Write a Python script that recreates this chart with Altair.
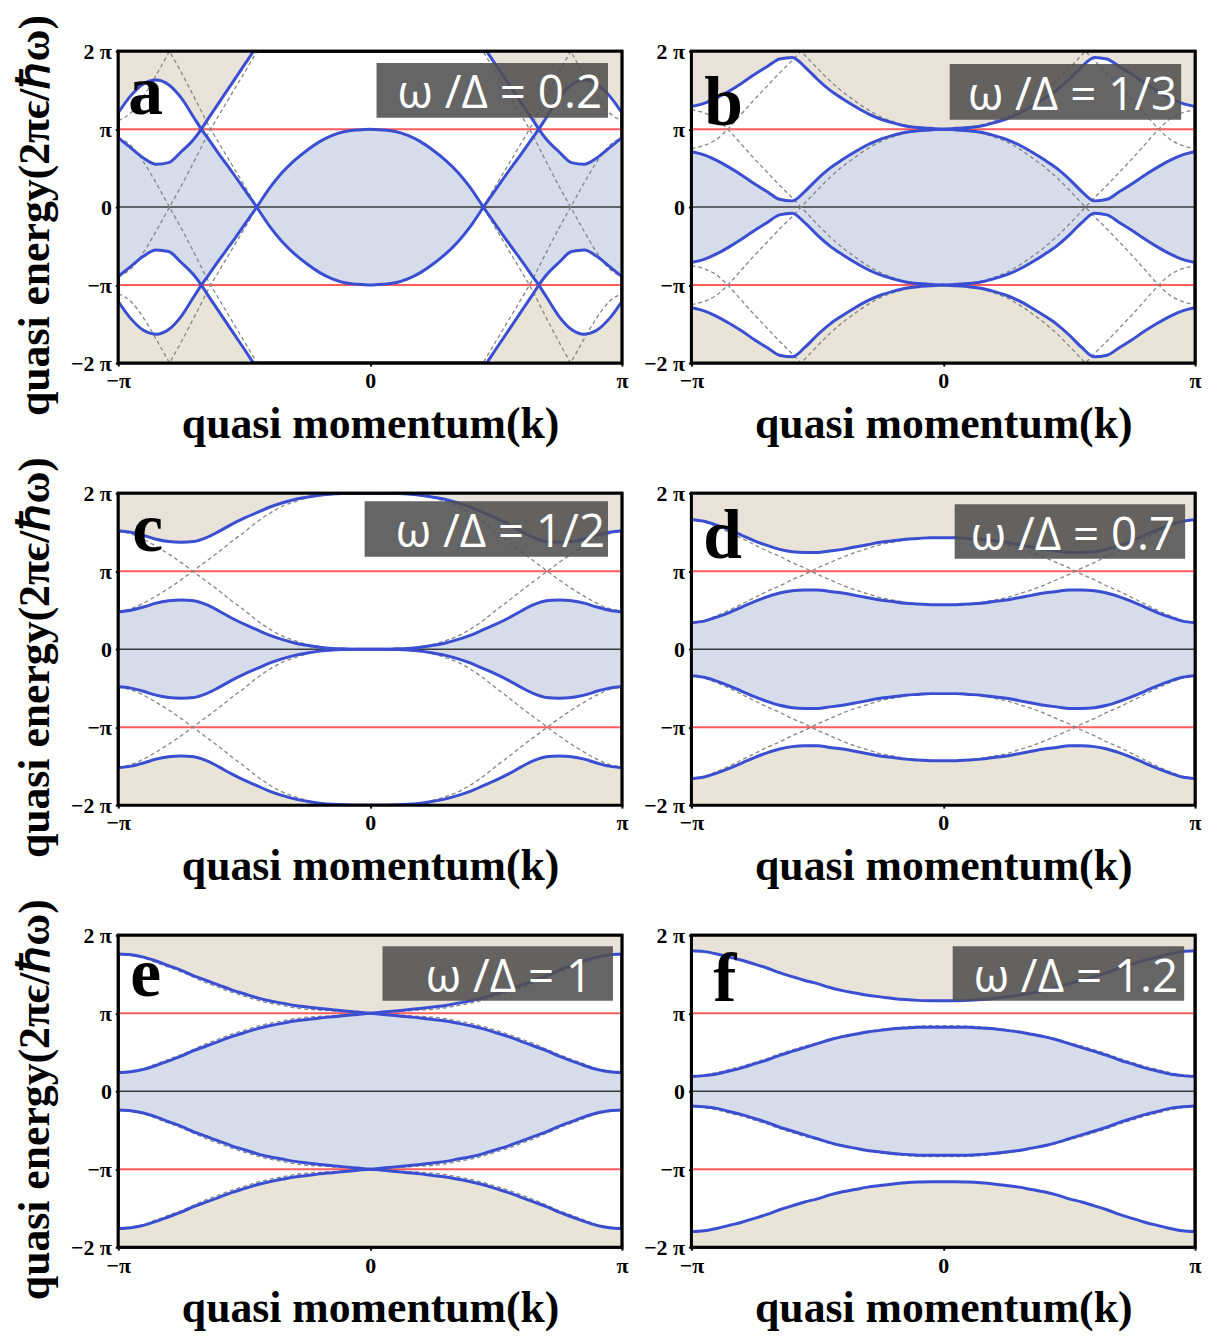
import altair as alt
import pandas as pd
import numpy as np

# ---------------- data (energies and momenta in units of pi) ----------------
K_HALF = [-1.0, -0.95, -0.9, -0.85, -0.8, -0.75, -0.7, -0.65, -0.6, -0.55, -0.5,
          -0.45, -0.4, -0.35, -0.3, -0.25, -0.2, -0.15, -0.1, -0.05, 0.0]
K_HALF_A = [-1.0, -0.95, -0.9, -0.85, -0.8, -0.75, -0.7, -0.67, -0.65, -0.6, -0.55, -0.5,
            -0.45, -0.4, -0.35, -0.3, -0.25, -0.2, -0.15, -0.1, -0.05, 0.0]

# panel a  (omega/Delta = 0.2)
A_BAND1 = [1.21, 1.43, 1.58, 1.63, 1.57, 1.40, 1.15, 1.00, 0.91, 0.68, 0.46, 0.23,
           0.00, -0.24, -0.44, -0.60, -0.73, -0.84, -0.92, -0.97, -0.99, -1.00]
A_BAND2 = [0.89, 0.76, 0.63, 0.55, 0.57, 0.71, 0.87, 1.00, 1.10, 1.34, 1.58, 1.82,
           2.06, 2.28, 2.46, 2.62, 2.74, 2.84, 2.92, 2.97, 2.99, 3.00]
A_BARE = [-2.89, -2.79, -2.58, -2.31, -2.02, -1.73, -1.42, -1.23, -1.10, -0.82, -0.55, -0.28,
          -0.01, 0.24, 0.44, 0.60, 0.73, 0.84, 0.92, 0.97, 0.99, 1.00]

# panel b  (omega/Delta = 1/3)
B_OUTER = [1.29, 1.33, 1.40, 1.49, 1.59, 1.70, 1.80, 1.90, 1.92, 1.80, 1.64,
           1.50, 1.39, 1.29, 1.20, 1.13, 1.08, 1.04, 1.02, 1.01, 1.00]
B_INNER = [0.71, 0.67, 0.60, 0.51, 0.41, 0.30, 0.20, 0.10, 0.08, 0.20, 0.36,
           0.50, 0.61, 0.71, 0.80, 0.87, 0.92, 0.96, 0.98, 0.99, 1.00]
B_BARE = [1.25, 1.21, 1.13, 0.98, 0.80, 0.62, 0.45, 0.28, 0.12, -0.05, -0.22,
          -0.38, -0.52, -0.64, -0.75, -0.84, -0.90, -0.95, -0.98, -1.00, -1.00]

# panel c  (omega/Delta = 1/2)
C_OUTER = [1.52, 1.50, 1.46, 1.41, 1.38, 1.37, 1.38, 1.43, 1.51, 1.60, 1.68,
           1.75, 1.82, 1.875, 1.92, 1.95, 1.975, 1.99, 1.996, 2.0, 2.0]
C_INNER = [0.48, 0.50, 0.54, 0.59, 0.62, 0.63, 0.62, 0.57, 0.49, 0.40, 0.32,
           0.25, 0.18, 0.125, 0.08, 0.05, 0.025, 0.01, 0.004, 0.0, 0.0]
C_BARE = [1.51, 1.48, 1.41, 1.32, 1.22, 1.11, 0.99, 0.87, 0.75, 0.62, 0.50,
          0.37, 0.26, 0.17, 0.11, 0.06, 0.03, 0.015, 0.005, 0.0, 0.0]

# panel d  (omega/Delta = 0.7)
D_OUTER = [1.66, 1.64, 1.59, 1.53, 1.46, 1.39, 1.33, 1.28, 1.25, 1.24, 1.24,
           1.26, 1.28, 1.31, 1.34, 1.37, 1.39, 1.41, 1.42, 1.43, 1.43]
D_INNER = [0.34, 0.36, 0.41, 0.47, 0.54, 0.61, 0.67, 0.72, 0.75, 0.76, 0.76,
           0.74, 0.72, 0.69, 0.66, 0.63, 0.61, 0.59, 0.58, 0.57, 0.57]
D_BARE = [0.34, 0.37, 0.43, 0.50, 0.58, 0.66, 0.74, 0.81, 0.89, 0.96, 1.04,
          1.11, 1.18, 1.24, 1.29, 1.34, 1.37, 1.40, 1.42, 1.43, 1.43]

# panel e  (omega/Delta = 1)
E_OUTER = [1.76, 1.75, 1.72, 1.67, 1.61, 1.55, 1.48, 1.42, 1.36, 1.30, 1.25,
           1.20, 1.16, 1.13, 1.10, 1.08, 1.06, 1.045, 1.03, 1.015, 1.00]
E_INNER = [0.24, 0.25, 0.28, 0.33, 0.39, 0.45, 0.52, 0.58, 0.64, 0.70, 0.75,
           0.80, 0.84, 0.87, 0.90, 0.92, 0.94, 0.955, 0.97, 0.985, 1.00]
E_BARE = [1.76, 1.74, 1.71, 1.65, 1.59, 1.53, 1.46, 1.39, 1.33, 1.27, 1.22,
          1.17, 1.13, 1.10, 1.07, 1.05, 1.04, 1.03, 1.02, 1.01, 1.00]

# panel f  (omega/Delta = 1.2)
F_OUTER = [1.80, 1.79, 1.76, 1.72, 1.68, 1.63, 1.58, 1.52, 1.47, 1.42, 1.38,
           1.33, 1.29, 1.26, 1.23, 1.21, 1.19, 1.175, 1.165, 1.16, 1.16]
F_INNER = [0.19, 0.20, 0.22, 0.26, 0.30, 0.35, 0.40, 0.46, 0.51, 0.56, 0.61,
           0.66, 0.70, 0.73, 0.76, 0.78, 0.80, 0.81, 0.82, 0.82, 0.82]
F_BARE = F_OUTER

LETTERS = ["a", "b", "c", "d", "e", "f"]
RATIOS = ["ω /Δ = 0.2", "ω /Δ = 1/3", "ω /Δ = 1/2", "ω /Δ = 0.7", "ω /Δ = 1", "ω /Δ = 1.2"]

X_TICKS = [-1, 0, 1]
X_LABELS = ["−π", "0", "π"]
Y_TICKS = [-2, -1, 0, 1, 2]
Y_LABELS = ["−2 π", "−π", "0", "π", "2 π"]
RED_LEVELS = [1, -1]
ZERO_LEVEL = [0]

# (sign, shift) copies of the bare (dashed) band visible in each panel
DASH_COPIES = {
    "a": [(1, 0), (-1, 0), (1, 2), (-1, -2), (1, 4), (-1, -4)],
    "b": [(1, 0), (-1, 0), (1, 2), (1, -2), (-1, 2), (-1, -2)],
    "c": [(1, 0), (-1, 0), (-1, 2), (1, -2)],
    "d": [(1, 0), (-1, 0), (-1, 2), (1, -2)],
    "e": [(1, 0), (-1, 0), (-1, 2), (1, -2)],
    "f": [(1, 0), (-1, 0), (-1, 2), (1, -2)],
}

PANELS = [
    dict(letter="a", kh=K_HALF_A, bands=[A_BAND1, A_BAND2], bare=A_BARE),
    dict(letter="b", kh=K_HALF, bands=[B_OUTER, B_INNER], bare=B_BARE),
    dict(letter="c", kh=K_HALF, bands=[C_OUTER, C_INNER], bare=C_BARE),
    dict(letter="d", kh=K_HALF, bands=[D_OUTER, D_INNER], bare=D_BARE),
    dict(letter="e", kh=K_HALF, bands=[E_OUTER, E_INNER], bare=E_BARE),
    dict(letter="f", kh=K_HALF, bands=[F_OUTER, F_INNER], bare=F_BARE),
]

# annotation placement (pixels inside each plot area)
BOX = {"a": (260, 493, 12, 67), "b": (260, 493, 13, 69), "c": (248, 493, 8, 64),
       "d": (265, 497, 11, 66), "e": (266, 498, 11, 66), "f": (263, 496, 11, 66)}
TXT = {"a": (487, 57), "b": (489, 59), "c": (490, 54), "d": (487, 57), "e": (477, 57), "f": (490, 57)}
LET = {"a": (10, 63), "b": (13, 74), "c": (14, 58), "d": (12, 65), "e": (12, 61), "f": (22, 66)}

W, H = 507, 314
BLUE = "#3a4ed2"
RED = "#ff4040"
FILL_BLUE = "#d6dcea"
BEIGE_TOP = "#e9e2d9"
BEIGE_BOT = "#e9e5d6"


def full(kh, vals):
    ks = list(kh) + [-k for k in reversed(kh[:-1])]
    vs = list(vals) + list(reversed(vals[:-1]))
    return np.array(ks, dtype=float), np.array(vs, dtype=float)


def lab_expr(ticks, labels):
    parts = [f"datum.value == {t} ? '{l}'" for t, l in zip(ticks, labels)]
    return " : ".join(parts) + " : ''"


xscale = alt.Scale(domain=[-1, 1], nice=False, zero=False)
yscale = alt.Scale(domain=[-2, 2], nice=False, zero=False)

xaxis = alt.Axis(values=X_TICKS, labelExpr=lab_expr(X_TICKS, X_LABELS), title="quasi momentum(k)",
                 labelFlush=False, labelOverlap=False, labelPadding=5, minExtent=28, maxExtent=28,
                 titlePadding=12)


def yaxis(left):
    kw = dict(values=Y_TICKS, labelExpr=lab_expr(Y_TICKS, Y_LABELS), labelOverlap=False,
              labelPadding=4, minExtent=46, maxExtent=46)
    if left:
        return alt.Axis(title="quasi energy(2πϵ/ℏω)", titlePadding=15, titleY=H / 2 + 8, **kw)
    return alt.Axis(title=None, **kw)


def panel(p, idx, left):
    letter = p["letter"]
    k, _ = full(p["kh"], p["bands"][0])
    bands = [full(p["kh"], b)[1] for b in p["bands"]]
    bare = full(p["kh"], p["bare"])[1]

    blue_rows, dash_rows = [], []
    cid = 0
    for b in bands:
        for s in (1, -1):
            for kk, v in zip(k, s * b):
                blue_rows.append({"k": kk, "y": v, "c": cid})
            cid += 1
    for j, (s, sh) in enumerate(DASH_COPIES[letter]):
        for kk, v in zip(k, s * bare + sh):
            dash_rows.append({"k": kk, "y": v, "c": j})
    blue_df = pd.DataFrame(blue_rows)
    dash_df = pd.DataFrame(dash_rows)
    absb = np.abs(np.vstack(bands))
    env = pd.DataFrame({"k": k, "lo": absb.min(axis=0), "hi": absb.max(axis=0)})
    env["nlo"] = -env["lo"]
    env["nhi"] = -env["hi"]
    env["top"] = 2.0
    env["bot"] = -2.0

    ya = yaxis(left)
    X = alt.X("k:Q", scale=xscale, axis=xaxis)

    def Y(field):
        return alt.Y(f"{field}:Q", scale=yscale, axis=ya)

    beige_top = alt.Chart(env).mark_area(color=BEIGE_TOP, interpolate="monotone", clip=True).encode(
        x=X, y=Y("hi"), y2="top:Q")
    beige_bot = alt.Chart(env).mark_area(color=BEIGE_BOT, interpolate="monotone", clip=True).encode(
        x=X, y=Y("bot"), y2="nhi:Q")
    blue_fill = alt.Chart(env).mark_area(color=FILL_BLUE, interpolate="monotone", clip=True).encode(
        x=X, y=Y("nlo"), y2="lo:Q")
    red = alt.Chart(pd.DataFrame({"y": RED_LEVELS})).mark_rule(color=RED, strokeWidth=2, opacity=0.85).encode(
        y=Y("y"))
    zero = alt.Chart(pd.DataFrame({"y": ZERO_LEVEL})).mark_rule(color="#3a3a3a", strokeWidth=1.5).encode(
        y=Y("y"))
    dashed = alt.Chart(dash_df).mark_line(color="#858585", strokeWidth=1.3, strokeDash=[4, 3],
                                          interpolate="monotone", clip=True).encode(
        x=X, y=Y("y"), detail="c:N")
    lines = alt.Chart(blue_df).mark_line(color=BLUE, strokeWidth=3, interpolate="monotone", clip=True).encode(
        x=X, y=Y("y"), detail="c:N")

    dummy = pd.DataFrame({"d": [0]})
    bx = BOX[letter]
    box = alt.Chart(dummy).mark_rect(color="#505050", opacity=0.88).encode(
        x=alt.value(bx[0]), x2=alt.value(bx[1]), y=alt.value(bx[2]), y2=alt.value(bx[3]))
    tx = TXT[letter]
    ratio = alt.Chart(dummy).mark_text(align="right", baseline="alphabetic", font="Open Sans",
                                       fontSize=46, color="white").encode(
        x=alt.value(tx[0]), y=alt.value(tx[1]), text=alt.value(RATIOS[idx]))
    lx = LET[letter]
    let = alt.Chart(dummy).mark_text(align="left", baseline="alphabetic", font="Liberation Serif",
                                     fontWeight="bold", fontSize=70, color="black").encode(
        x=alt.value(lx[0]), y=alt.value(lx[1]), text=alt.value(letter))
    frame = alt.Chart(dummy).mark_rect(fillOpacity=0, stroke="black", strokeWidth=3).encode(
        x=alt.value(0), x2=alt.value(W), y=alt.value(0), y2=alt.value(H))

    return alt.layer(beige_top, beige_bot, blue_fill, red, zero, dashed, lines, box, ratio, let,
                     frame).properties(width=W, height=H)


cells = [panel(PANELS[i], i, i % 2 == 0) for i in range(6)]

chart = alt.concat(*cells, columns=2, spacing={"row": 131, "column": 70}, bounds="flush").properties(
    padding={"left": 4, "top": 0, "right": 4, "bottom": 4}
).configure_view(stroke="black", strokeWidth=3).configure_axis(
    labelFont="Liberation Serif", labelFontWeight="bold", labelFontSize=22, labelColor="black",
    titleFont="Liberation Serif", titleFontWeight="bold", titleFontSize=44, titleColor="black",
    grid=False, domain=False, ticks=True, tickSize=3, tickWidth=2, tickColor="black"
)

chart.save("out.html", embed_options={"renderer": "svg", "actions": False})
